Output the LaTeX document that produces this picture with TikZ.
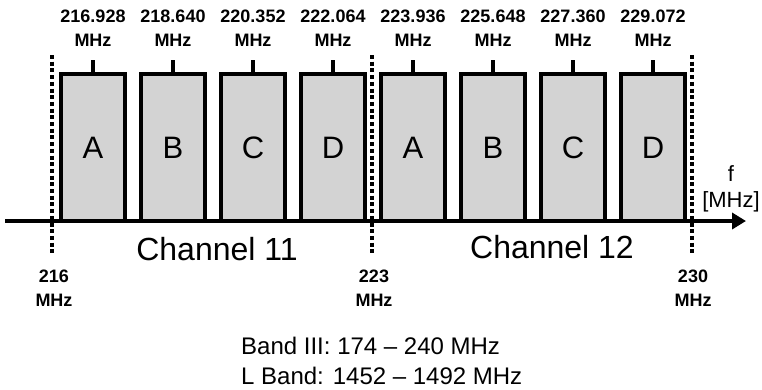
\documentclass[tikz,border=0pt]{standalone}
\usepackage{fontspec}
\setmainfont{Liberation Sans}
\usetikzlibrary{arrows.meta, positioning}
\definecolor{boxgray}{RGB}{211,211,211}

\begin{document}
\begin{tikzpicture}[
    x=1pt, y=-1pt, node distance=12pt,
    subchannel/.style={draw, line width=4pt, fill=boxgray, minimum width=64pt, minimum height=147pt, inner sep=0pt, font=\fontsize{31}{36}\selectfont},
    centre_tick/.style={line width=4pt},
    freq_label/.style={align=center, inner sep=0pt, font=\fontsize{18}{24}\selectfont\bfseries},
    band_edge/.style={line width=3.5pt, dash pattern=on 4pt off 2.7pt},
    freq_axis/.style={line width=4pt, -{Triangle[length=14pt, width=16pt]}},
    channel_label/.style={inner sep=0pt, font=\fontsize{32}{38}\selectfont},
    unit_label/.style={align=center, inner sep=0pt, font=\fontsize{22}{26}\selectfont},
    note_text/.style={align=left, inner sep=0pt, font=\fontsize{24}{30}\selectfont}
]
\useasboundingbox (0,0) rectangle (762,389);

\node (ch11_a) [subchannel] at (93,147.5) {A};
\node (ch11_b) [subchannel, right=of ch11_a] {B};
\node (ch11_c) [subchannel, right=of ch11_b] {C};
\node (ch11_d) [subchannel, right=of ch11_c] {D};
\node (ch12_a) [subchannel, right=of ch11_d] {A};
\node (ch12_b) [subchannel, right=of ch12_a] {B};
\node (ch12_c) [subchannel, right=of ch12_b] {C};
\node (ch12_d) [subchannel, right=of ch12_c] {D};

\draw[centre_tick] (ch11_a.north) -- ++(0,-12) coordinate (tick_ch11_a);
\draw[centre_tick] (ch11_b.north) -- ++(0,-12) coordinate (tick_ch11_b);
\draw[centre_tick] (ch11_c.north) -- ++(0,-12) coordinate (tick_ch11_c);
\draw[centre_tick] (ch11_d.north) -- ++(0,-12) coordinate (tick_ch11_d);
\draw[centre_tick] (ch12_a.north) -- ++(0,-12) coordinate (tick_ch12_a);
\draw[centre_tick] (ch12_b.north) -- ++(0,-12) coordinate (tick_ch12_b);
\draw[centre_tick] (ch12_c.north) -- ++(0,-12) coordinate (tick_ch12_c);
\draw[centre_tick] (ch12_d.north) -- ++(0,-12) coordinate (tick_ch12_d);

\node (freq_ch11_a) [freq_label, above=13pt of tick_ch11_a] {216.928\\MHz};
\node (freq_ch11_b) [freq_label, above=13pt of tick_ch11_b] {218.640\\MHz};
\node (freq_ch11_c) [freq_label, above=13pt of tick_ch11_c] {220.352\\MHz};
\node (freq_ch11_d) [freq_label, above=13pt of tick_ch11_d] {222.064\\MHz};
\node (freq_ch12_a) [freq_label, above=13pt of tick_ch12_a] {223.936\\MHz};
\node (freq_ch12_b) [freq_label, above=13pt of tick_ch12_b] {225.648\\MHz};
\node (freq_ch12_c) [freq_label, above=13pt of tick_ch12_c] {227.360\\MHz};
\node (freq_ch12_d) [freq_label, above=13pt of tick_ch12_d] {229.072\\MHz};

\coordinate (axis_start) at (5,221);
\coordinate (axis_end) at (746,221);
\draw[freq_axis] (axis_start) -- (axis_end);

\coordinate (edge_216) at (52,221);
\coordinate (edge_223) at (372,221);
\coordinate (edge_230) at (692,221);
\draw[band_edge] (edge_216) ++(0,-166) -- ++(0,198) coordinate (edge_216_end);
\draw[band_edge] (edge_223) ++(0,-166) -- ++(0,198) coordinate (edge_223_end);
\draw[band_edge] (edge_230) ++(0,-166) -- ++(0,198) coordinate (edge_230_end);

\node (freq_216) [freq_label, below=17pt of edge_216_end, xshift=2pt] {216\\MHz};
\node (freq_223) [freq_label, below=17pt of edge_223_end, xshift=2pt] {223\\MHz};
\node (freq_230) [freq_label, below=17pt of edge_230_end, xshift=1pt] {230\\MHz};

\node (channel_11) [channel_label] at (217,249) {Channel 11};
\node (channel_12) [channel_label] at (552,247) {Channel 12};

\node (axis_unit) [unit_label] at (731,189) {f\\{[MHz]}};

\node (band_ranges) [note_text, anchor=north west] at (241,337) {Band III: 174 -- 240 MHz\\L Band: 1452 -- 1492 MHz};
\end{tikzpicture}
\end{document}
